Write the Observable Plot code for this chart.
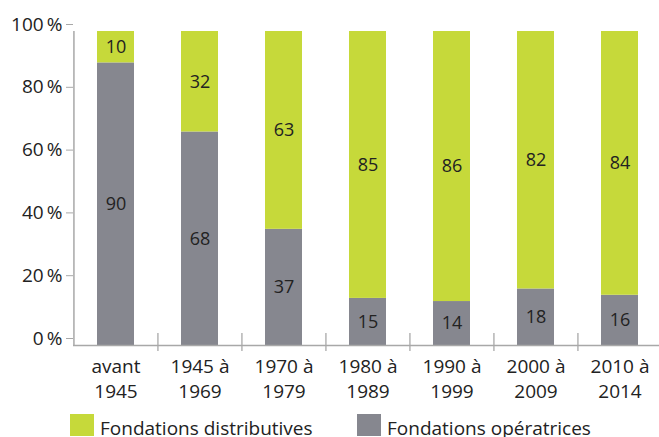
<!DOCTYPE html>
<html>
<head>
<meta charset="utf-8">
<script src="https://cdn.jsdelivr.net/npm/d3@7"></script>
<script src="https://cdn.jsdelivr.net/npm/@observablehq/plot@0.6"></script>
<style>
  html, body { margin: 0; padding: 0; background: #fff; }
  body { width: 659px; height: 437px; overflow: hidden; font-family: "Open Sans", sans-serif; color: #222; position: relative; }
  .item { display: flex; align-items: center; position: absolute; font-size: 19px; line-height: 22px; }
  .sw { width: 24px; height: 22px; margin-right: 6px; }
</style>
</head>
<body>
<div id="chart"></div>
<div id="legend"></div>
<script>
const categories = ["avant\n1945", "1945 à\n1969", "1970 à\n1979", "1980 à\n1989", "1990 à\n1999", "2000 à\n2009", "2010 à\n2014"];
const distributives = [10, 32, 63, 85, 86, 82, 84];
const operatrices = [90, 68, 37, 15, 14, 18, 16];
const seriesNames = ["Fondations opératrices", "Fondations distributives"];
const seriesColors = ["#86878f", "#c6d93a"];
const yTicks = [0, 20, 40, 60, 80, 100];

const data = [];
categories.forEach((c, i) => {
  data.push({cat: c, series: seriesNames[0], value: operatrices[i]});
  data.push({cat: c, series: seriesNames[1], value: distributives[i]});
});

const halfStep = (662 - 73) / categories.length / 2;

const chart = Plot.plot({
  width: 659,
  height: 408,
  marginTop: 31,
  marginBottom: 63,
  marginLeft: 73,
  marginRight: 0,
  style: {fontFamily: "Open Sans", fontSize: "18px", color: "#222", background: "#fff", overflow: "visible"},
  x: {domain: categories, range: [73, 662], paddingInner: 0.56, paddingOuter: 0.28, axis: null},
  y: {domain: [0, 100]},
  color: {domain: seriesNames, range: seriesColors},
  marks: [
    Plot.barY(data, Plot.stackY({x: "cat", y: "value", fill: "series", order: seriesNames})),
    Plot.text(data, Plot.stackY({x: "cat", y: "value", z: "series", order: seriesNames, text: "value", fontSize: 18, fill: "#222"})),
    Plot.ruleY([0], {stroke: "#a8a8a8", strokeWidth: 1.5}),
    Plot.ruleX([categories[0]], {x: d => d, y1: 0, y2: 100, dx: -halfStep, stroke: "#a8a8a8", strokeWidth: 1.5}),
    Plot.ruleX(categories.slice(1), {x: d => d, y1: 3.8, y2: -1.9, dx: -halfStep, stroke: "#a8a8a8", strokeWidth: 1.3}),
    Plot.axisY({ticks: yTicks, tickFormat: d => d + "\u2009%", tickSize: 7, tickPadding: 4, dy: -7, stroke: "#a8a8a8", fill: "#222", fontSize: 19, label: null}),
    Plot.text(categories, {x: d => d, y: 0, text: d => d, lineAnchor: "top", lineHeight: 1.3, dy: 10, fontSize: 19, fill: "#222"})
  ]
});
document.getElementById("chart").appendChild(chart);

const legend = document.getElementById("legend");
const legendOrder = [1, 0];
const legendX = [70, 357];
legendOrder.forEach((k, j) => {
  const it = document.createElement("div");
  it.className = "item";
  it.style.left = legendX[j] + "px";
  it.style.top = "414px";
  const sw = document.createElement("span");
  sw.className = "sw";
  sw.style.background = seriesColors[k];
  const tx = document.createElement("span");
  tx.textContent = seriesNames[k];
  tx.style.position = "relative";
  tx.style.top = "3px";
  it.appendChild(sw);
  it.appendChild(tx);
  legend.appendChild(it);
});
</script>
</body>
</html>
